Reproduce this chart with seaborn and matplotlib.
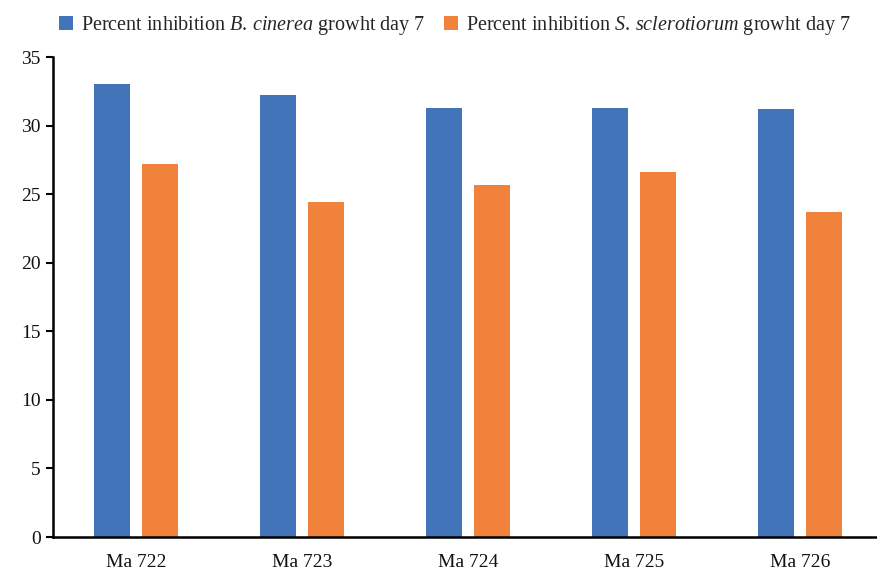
import matplotlib
matplotlib.use("Agg")
import matplotlib.pyplot as plt
import seaborn as sns
import pandas as pd

# Strain labels and inhibition percentages on day 7
strains = ["Ma 722", "Ma 723", "Ma 724", "Ma 725", "Ma 726"]
botrytis = [33.0, 32.2, 31.3, 31.3, 31.2]
sclerotinia = [27.2, 24.4, 25.7, 26.6, 23.7]
yticks = [0, 5, 10, 15, 20, 25, 30, 35]

label_b = r"Percent inhibition $\mathit{B.\,cinerea}$ growht day 7"
label_s = r"Percent inhibition $\mathit{S.\,sclerotiorum}$ growht day 7"

df = pd.DataFrame({
    "strain": strains * 2,
    "value": botrytis + sclerotinia,
    "series": [label_b] * len(strains) + [label_s] * len(strains),
})

sns.set_theme(style="white")
plt.rcParams["font.family"] = ["Liberation Serif", "DejaVu Serif"]
plt.rcParams["mathtext.fontset"] = "custom"
plt.rcParams["mathtext.it"] = "Liberation Serif:italic"
plt.rcParams["mathtext.rm"] = "Liberation Serif"

fig = plt.figure(figsize=(8.77, 5.72), dpi=100)
ax = fig.add_axes([53 / 877, 35 / 572, 830 / 877, 480 / 572])

sns.barplot(
    data=df, x="strain", y="value", hue="series",
    palette=["#4274BA", "#F0823C"], saturation=1, width=0.572, gap=0.24,
    linewidth=0, ax=ax, legend=True,
)

ax.set_xlim(-0.5, 4.5)
ax.set_ylim(0, 35)
ax.set_yticks(yticks)
ax.set_yticklabels([str(v) for v in yticks])
ax.set_xlabel("")
ax.set_ylabel("")

for side in ["top", "right"]:
    ax.spines[side].set_visible(False)
for side in ["left", "bottom"]:
    ax.spines[side].set_color("black")
    ax.spines[side].set_linewidth(1.8)

ax.tick_params(axis="y", which="major", direction="out", length=5, width=1.5,
               color="black", labelsize=14, labelcolor="#111111", pad=4, left=True)
ax.tick_params(axis="x", length=0, labelsize=14, labelcolor="#111111", pad=12)

handles, labels = ax.get_legend_handles_labels()
ax.legend(handles, labels, loc="upper center", bbox_to_anchor=(455 / 877, 1.0),
          bbox_transform=fig.transFigure, ncol=2, frameon=False, fontsize=14.5,
          handlelength=0.7, handleheight=0.7, handletextpad=0.4, columnspacing=0.9,
          borderaxespad=0.3)

fig.savefig("out.png", dpi=100)
